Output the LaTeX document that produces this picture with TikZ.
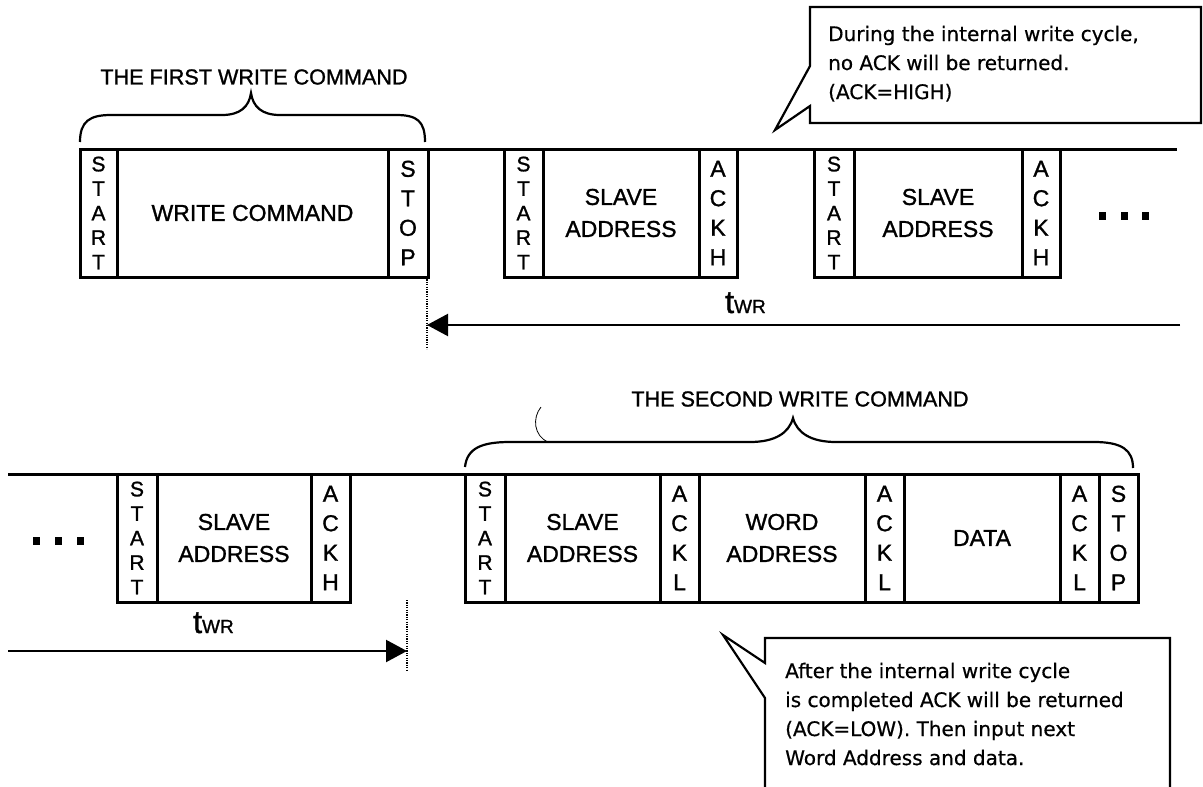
\documentclass[tikz,border=0pt]{standalone}
\usepackage{fontspec}
\setmainfont{Liberation Sans}[FakeBold=1.2]
\newfontfamily\notefont{DejaVu Sans}[FakeBold=0.6]
\usetikzlibrary{arrows.meta}
\tikzset{
	field/.style={draw, line width=3pt, anchor=north west, inner sep=0pt, outer sep=0pt, minimum height=128pt, align=center, font=\fontsize{23}{32}\selectfont},
	startcol/.style={field, minimum width=39pt, font=\fontsize{21}{24.5}\selectfont},
	ackcol/.style={field, minimum width=39pt, font=\fontsize{23}{29.5}\selectfont},
	bus/.style={line width=3pt},
	brace/.style={line width=2.2pt},
	callout/.style={line width=2.2pt, line join=miter},
	notetext/.style={anchor=base west, inner sep=0pt, align=left, font=\notefont\fontsize{20}{29}\selectfont},
	title/.style={inner sep=0pt, font=\fontsize{21.6}{26}\selectfont},
	timeline/.style={line width=2.2pt, -{Triangle[length=21pt,width=22pt]}},
	guide/.style={line width=2.2pt, dash pattern=on 1.2pt off 1.2pt}
}
\newcommand{\twrlabel}{{\fontsize{32}{32}\selectfont t}{\fontsize{19}{19}\selectfont WR}}
\begin{document}
\begin{tikzpicture}[x=1pt, y=-1pt]
			%%%%% START %%%%%
			\path[use as bounding box, fill=white] (0,0) rectangle (1203,787);
			
			% first row
			\node[startcol, minimum width=37pt] (start1) at (80,149) {S\\T\\A\\R\\T};
			\node[field, minimum width=271pt] (write1) at (117,149) {WRITE COMMAND};
			\node[ackcol, minimum width=40pt] (stop1) at (388,149) {S\\T\\O\\P};
			\node[startcol] (start2) at (504,149) {S\\T\\A\\R\\T};
			\node[field, minimum width=156pt] (slave2) at (543,149) {SLAVE\\ADDRESS};
			\node[ackcol, minimum width=38pt] (ack2) at (699,149) {A\\C\\K\\H};
			\node[startcol, minimum width=40pt] (start3) at (814,149) {S\\T\\A\\R\\T};
			\node[field, minimum width=168pt] (slave3) at (854,149) {SLAVE\\ADDRESS};
			\node[ackcol, minimum width=38pt] (ack3) at (1022,149) {A\\C\\K\\H};
			\coordinate (bus1end) at (1177,149);
			\draw[bus] (start1.north west) -- (bus1end);
			
			\fill (1099,212) rectangle (1106,220);
			\fill (1121,212) rectangle (1128,220);
			\fill (1142,212) rectangle (1149,220);
			
			\node[title] (first) at (254,77) {THE FIRST WRITE COMMAND};
			\draw[brace] (80,142) .. controls (80,121) and (90,115) .. (111,115) -- (222,115) .. controls (240,115) and (249,107) .. (251,93) .. controls (253,107) and (262,115) .. (280,115) -- (396,115) .. controls (417,115) and (425,121) .. (425,142);
			
			\coordinate (d1a) at (427,277);
			\coordinate (d1b) at (427,349);
			\draw[guide] (d1a) -- (d1b);
			\coordinate (t1a) at (1180,325);
			\coordinate (t1b) at (427,325);
			\draw[timeline] (t1a) -- (t1b);
			\node[anchor=base west, inner sep=0pt] (twr1) at (725,313) {\twrlabel};
			
			\coordinate (tip1) at (775,130);
			\draw[callout] (810,66) -- (810,7) -- (1201,7) -- (1201,123) -- (810,123) -- (810,106) -- (tip1) -- cycle;
			\node[notetext] (note1) at (828,99) {During the internal write cycle,\\no ACK will be returned.\\(ACK=HIGH)};
			
			% second row
			\node[startcol, minimum width=40pt] (start4) at (117,474) {S\\T\\A\\R\\T};
			\node[field, minimum width=154pt] (slave4) at (157,474) {SLAVE\\ADDRESS};
			\node[ackcol] (ack4) at (311,474) {A\\C\\K\\H};
			\node[startcol, minimum width=40pt] (start5) at (465,474) {S\\T\\A\\R\\T};
			\node[field, minimum width=155pt] (slave5) at (505,474) {SLAVE\\ADDRESS};
			\node[ackcol] (ack5) at (660,474) {A\\C\\K\\L};
			\node[field, minimum width=166pt] (word5) at (699,474) {WORD\\ADDRESS};
			\node[ackcol] (ack6) at (865,474) {A\\C\\K\\L};
			\node[field, minimum width=156pt] (data5) at (904,474) {DATA};
			\node[ackcol] (ack7) at (1060,474) {A\\C\\K\\L};
			\node[ackcol] (stop5) at (1099,474) {S\\T\\O\\P};
			\coordinate (bus2start) at (8,474);
			\draw[bus] (bus2start) -- (stop5.north east);
			
			\fill (33,537) rectangle (40,545);
			\fill (55,537) rectangle (62,545);
			\fill (77,537) rectangle (84,545);
			
			\node[title] (second) at (800,399) {THE SECOND WRITE COMMAND};
			\draw[brace] (465,467) .. controls (467,448) and (482,442) .. (510,442) -- (750,442) .. controls (775,442) and (789,433) .. (793,418) .. controls (797,433) and (811,442) .. (836,442) -- (1094,442) .. controls (1122,442) and (1133,450) .. (1133,468);
			\draw[line width=0.8pt] (541,407) .. controls (532,418) and (534,436) .. (548,442);
			
			\coordinate (d2a) at (407,600);
			\coordinate (d2b) at (407,670);
			\draw[guide] (d2a) -- (d2b);
			\coordinate (t2a) at (8,651);
			\coordinate (t2b) at (407,651);
			\draw[timeline] (t2a) -- (t2b);
			\node[anchor=base west, inner sep=0pt] (twr2) at (193,633) {\twrlabel};
			
			\coordinate (tip2) at (723,635);
			\draw[callout] (765,787) -- (765,698) -- (tip2) -- (765,663) -- (765,638) -- (1170,638) -- (1170,787);
			\node[notetext] (note2) at (785,765) {After the internal write cycle\\is completed ACK will be returned\\(ACK=LOW). Then input next\\Word Address and data.};
			
			%%%%% END %%%%%
\end{tikzpicture}
\end{document}
